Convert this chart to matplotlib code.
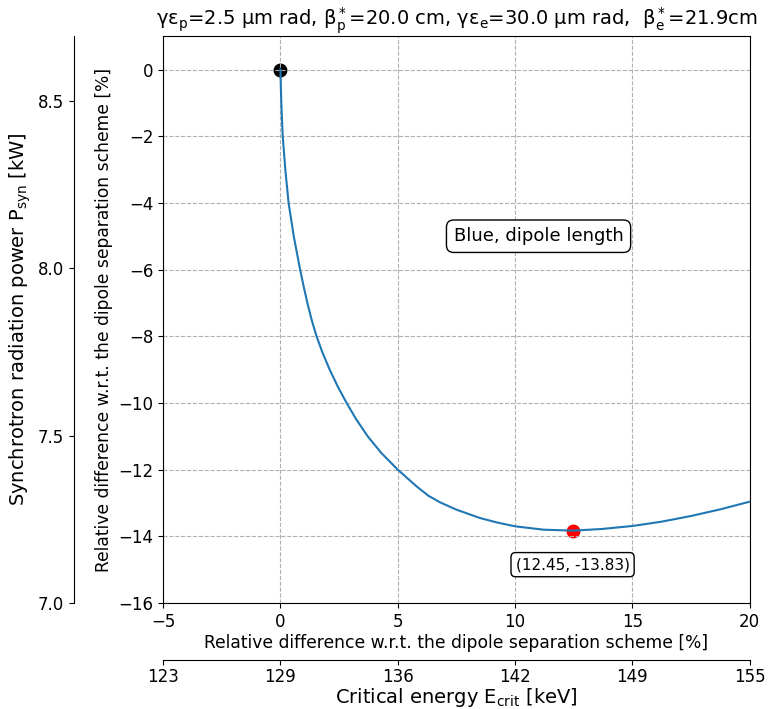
import numpy as np
import matplotlib.pyplot as plt

# relative difference of the dipole length vs. critical energy scan [%]
dx = [0, 0.04, 0.1, 0.21, 0.35, 0.57, 0.84, 0.99, 1.15, 1.33, 1.54, 1.8, 2.1,
      2.44, 2.82, 3.24, 3.72, 4.3, 5.0, 5.8, 6.3, 6.8, 7.5, 8.5, 9.2, 10, 11.2,
      12.45, 13.7, 15, 16.25, 17.5, 18.75, 20]
dy = [0, -1, -2, -3, -4, -5, -6, -6.5, -7, -7.5, -8, -8.5, -9,
      -9.5, -10, -10.5, -11, -11.5, -12, -12.5, -12.78, -12.98, -13.2, -13.45,
      -13.58, -13.7, -13.8, -13.83, -13.78, -13.69, -13.56, -13.39, -13.19,
      -12.96]

x_min, y_min = 12.45, -13.83
x_ticks = [-5, 0, 5, 10, 15, 20]
e_ticks = [123, 129, 136, 142, 149, 155]
p_ticks = [7.0, 7.5, 8.0, 8.5]
p_lim = (7.0, 8.694)

fig = plt.figure(figsize=(7.69, 7.09), dpi=100)
ax = fig.add_axes([0.212, 0.1495, 0.763, 0.7995])

ax.plot(dx, dy, color='tab:blue', lw=1.5)
ax.plot(0, 0, 'o', color='black', ms=9, zorder=1)
ax.plot(x_min, y_min, 'o', color='red', ms=9, zorder=1)
ax.set_xlim(-5, 20)
ax.set_ylim(-16, 1)
ax.set_xticks(x_ticks)
ax.grid(True, ls='--', color='#b0b0b0', lw=0.8)
ax.tick_params(labelsize=12)
ax.set_xlabel("Relative difference w.r.t. the dipole separation scheme [%]",
              fontsize=12.3, labelpad=2)
ax.set_ylabel("Relative difference w.r.t. the dipole separation scheme [%]",
              fontsize=12.3)
ax.set_title("γε$_\\mathrm{p}$=2.5 μm rad, β$_\\mathrm{p}^*$=20.0 cm, "
             "γε$_\\mathrm{e}$=30.0 μm rad,  β$_\\mathrm{e}^*$=21.9cm", fontsize=14)

ax.text(11, -5, "Blue, dipole length", fontsize=13, ha='center', va='center',
        bbox=dict(boxstyle='round,pad=0.4', fc='white', ec='black'))
ax.text(x_min, -14.85, "(%.2f, %.2f)" % (x_min, y_min), fontsize=11,
        ha='center', va='center',
        bbox=dict(boxstyle='round,pad=0.3', fc='white', ec='black'))

# synchrotron power axis on the far left
axp = ax.twinx()
axp.set_ylim(*p_lim)
axp.set_yticks(p_ticks)
axp.set_yticklabels(["%.1f" % p for p in p_ticks])
axp.yaxis.set_ticks_position('left')
axp.yaxis.set_label_position('left')
axp.spines['left'].set_position(('axes', -0.1516))
for s in ['right', 'top', 'bottom']:
    axp.spines[s].set_visible(False)
axp.tick_params(labelsize=12)
axp.set_ylabel("Synchrotron radiation power P$_\\mathrm{syn}$ [kW]", fontsize=14)

# critical energy axis below
axe = ax.twiny()
axe.set_xlim(ax.get_xlim())
axe.set_xticks(x_ticks)
axe.set_xticklabels([str(e) for e in e_ticks])
axe.xaxis.set_ticks_position('bottom')
axe.xaxis.set_label_position('bottom')
axe.spines['bottom'].set_position(('axes', -0.1005))
for s in ['right', 'top', 'left']:
    axe.spines[s].set_visible(False)
axe.tick_params(labelsize=12, pad=2)
axe.set_xlabel("Critical energy E$_\\mathrm{crit}$ [keV]", fontsize=14, labelpad=0)

plt.savefig("out.png", dpi=100)
